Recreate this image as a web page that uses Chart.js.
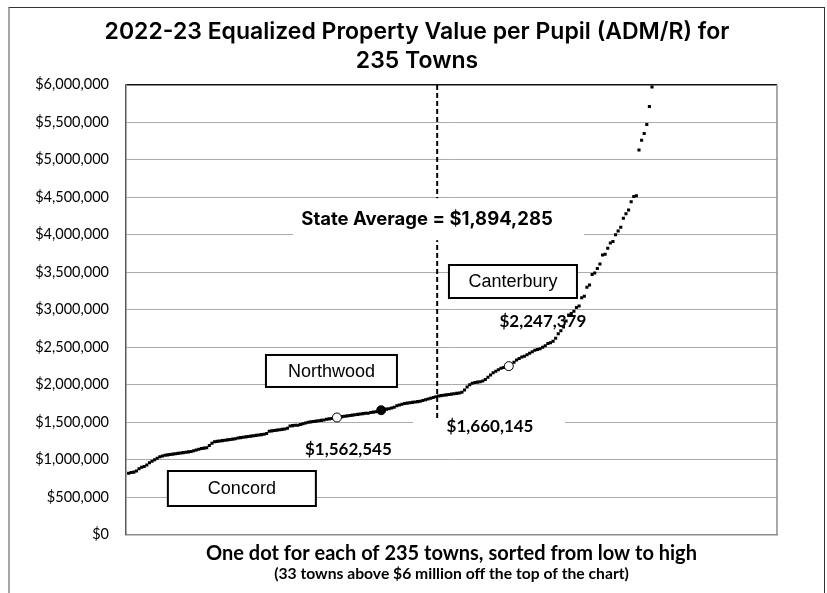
<!DOCTYPE html>
<html>
<head>
<meta charset="utf-8">
<script src="https://cdn.jsdelivr.net/npm/chart.js@4.4.1/dist/chart.umd.min.js"></script>
<style>
  html, body { margin: 0; padding: 0; background: #fff; }
  #wrap { position: relative; width: 827px; height: 593px; }
  #frame {
    position: absolute; left: 8px; top: 7px; width: 817px; height: 600px;
    box-sizing: border-box; pointer-events: none;
    border-left: 2px solid #a6a6a6; border-top: 1.5px solid #333; border-right: 1.5px solid #333;
  }
</style>
</head>
<body>
<div id="wrap">
  <canvas id="chart"></canvas>
  <div id="frame"></div>
</div>
<script>
// equalized value per pupil, one entry per town, sorted low to high (rank 1..235)
const townValues = [
    820000, 830000, 835000, 850000, 880000, 900000, 910000, 930000, 960000, 980000,
    1000000, 1020000, 1040000, 1050000, 1060000, 1065000, 1070000, 1075000, 1080000, 1085000,
    1090000, 1095000, 1100000, 1105000, 1110000, 1120000, 1130000, 1140000, 1150000, 1155000,
    1160000, 1190000, 1220000, 1240000, 1245000, 1250000, 1255000, 1260000, 1265000, 1270000,
    1275000, 1280000, 1290000, 1295000, 1300000, 1305000, 1310000, 1315000, 1320000, 1325000,
    1330000, 1335000, 1340000, 1350000, 1380000, 1385000, 1390000, 1395000, 1400000, 1405000,
    1410000, 1420000, 1450000, 1455000, 1460000, 1460000, 1470000, 1480000, 1490000, 1500000,
    1505000, 1510000, 1515000, 1520000, 1525000, 1530000, 1540000, 1545000, 1550000, 1555000,
    1562545, 1570000, 1575000, 1580000, 1585000, 1590000, 1595000, 1600000, 1605000, 1610000,
    1615000, 1620000, 1620000, 1630000, 1635000, 1640000, 1650000, 1660145, 1670000, 1675000,
    1680000, 1690000, 1700000, 1720000, 1730000, 1740000, 1750000, 1755000, 1760000, 1765000,
    1770000, 1775000, 1780000, 1790000, 1800000, 1810000, 1820000, 1830000, 1840000, 1850000,
    1855000, 1860000, 1865000, 1870000, 1875000, 1880000, 1885000, 1890000, 1900000, 1930000,
    1970000, 2000000, 2020000, 2030000, 2035000, 2040000, 2050000, 2070000, 2100000, 2130000,
    2160000, 2180000, 2200000, 2220000, 2230000, 2240000, 2247379, 2270000, 2300000, 2330000,
    2350000, 2370000, 2380000, 2400000, 2420000, 2440000, 2460000, 2470000, 2480000, 2500000,
    2520000, 2550000, 2560000, 2580000, 2620000, 2680000, 2720000, 2770000, 2850000, 2930000,
    2950000, 2980000, 3030000, 3050000, 3160000, 3180000, 3300000, 3330000, 3470000, 3490000,
    3550000, 3610000, 3730000, 3740000, 3820000, 3890000, 3910000, 4000000, 4050000, 4100000,
    4220000, 4280000, 4330000, 4440000, 4510000, 4520000, 5130000, 5260000, 5350000, 5470000,
    5710000, 5970000, 6100000, 6300000, 6500000, 6800000, 7000000, 7300000, 7600000, 8000000,
    8400000, 8900000, 9300000, 9800000, 10400000, 11000000, 11700000, 12500000, 13400000, 14200000,
    15300000, 16500000, 17800000, 19200000, 21000000, 23000000, 25500000, 28000000, 31000000, 35000000,
    40000000, 46000000, 55000000, 68000000, 90000000
];

// highlighted towns (rank in the sorted list)
const highlightRanks = [81, 98, 147];
const highlightValues = [1562545, 1660145, 2247379];
const highlightFilled = [false, true, false];

const stateAverage = 1894285;
const stateAverageRank = 119.5;
const stateAverageLineFrom = 1450000;

const yMax = 6000000;
const yStep = 500000;
const xMax = 250;

// name boxes and value labels, placed in chart units (rank, dollars)
const boxNames = ['Concord', 'Northwood', 'Canterbury'];
const boxRanks = [44.5, 78.9, 148.6];
const boxValues = [616000, 2183000, 3376000];
const boxWidths = [148, 131, 128];
const boxHeights = [35, 32, 33];

const valueLabelRanks = [85.4, 139.8, 160.1];
const valueLabelValues = [1136000, 1436000, 2849000];
const valueLabelMask = [false, true, false];

const avgLabelRank = 115.6;
const avgLabelValue = 4207000;

const titleLines = ['2022-23 Equalized Property Value per Pupil (ADM/R) for', '235 Towns'];
const xCaption = 'One dot for each of 235 towns, sorted from low to high';
const xSubCaption = '(33 towns above $6 million off the top of the chart)';

const money = v => '$' + Math.round(v).toLocaleString('en-US');

const chartText = {
    id: 'chartText',
    beforeDraw(chart) {
        const ctx = chart.ctx;
        const area = chart.chartArea;
        ctx.save();
        ctx.fillStyle = '#000';
        ctx.textAlign = 'center';
        ctx.textBaseline = 'middle';
        ctx.font = '600 23px Inter';
        ctx.fillText(titleLines[0], 417, 32);
        ctx.fillText(titleLines[1], 417, 61);

        const cx = (area.left + area.right) / 2;
        ctx.font = 'bold 20px Lato';
        ctx.fillText(xCaption, cx, area.bottom + 19);
        ctx.font = 'bold 15.7px Lato';
        ctx.fillText(xSubCaption, cx, area.bottom + 39);
        ctx.restore();
    },
    beforeDatasetsDraw(chart) {
        const ctx = chart.ctx;
        const area = chart.chartArea;
        ctx.save();
        ctx.strokeStyle = '#8c8c8c';
        ctx.lineWidth = 1.5;
        ctx.beginPath();
        ctx.moveTo(area.right, area.top);
        ctx.lineTo(area.right, area.bottom);
        ctx.stroke();
        ctx.restore();
    },
    afterDatasetDraw(chart, args) {
        if (chart.data.datasets[args.index].id !== 'average') return;
        const ctx = chart.ctx;
        const xs = chart.scales.x;
        const ys = chart.scales.y;
        ctx.save();
        ctx.textAlign = 'center';
        ctx.textBaseline = 'middle';

        // state average label on a white patch over the dashed line
        const ax = xs.getPixelForValue(avgLabelRank);
        const ay = ys.getPixelForValue(avgLabelValue);
        ctx.fillStyle = '#fff';
        ctx.fillRect(ax - 134, ay - 21, 291, 42);
        ctx.fillStyle = '#000';
        ctx.font = 'bold 18.5px Inter';
        ctx.fillText('State Average = ' + money(stateAverage), ax, ay);

        // name boxes
        ctx.font = '18px "Liberation Sans"';
        boxNames.forEach((name, i) => {
            const bx = xs.getPixelForValue(boxRanks[i]);
            const by = ys.getPixelForValue(boxValues[i]);
            const w = boxWidths[i], h = boxHeights[i];
            ctx.fillStyle = '#fff';
            ctx.fillRect(bx - w / 2, by - h / 2, w, h);
            ctx.strokeStyle = '#000';
            ctx.lineWidth = 2;
            ctx.strokeRect(bx - w / 2, by - h / 2, w, h);
            ctx.fillStyle = '#000';
            ctx.fillText(name, bx, by + 1);
        });

        // dollar values of the highlighted towns
        ctx.font = 'bold 17px Lato';
        highlightValues.forEach((v, i) => {
            const lx = xs.getPixelForValue(valueLabelRanks[i]);
            const ly = ys.getPixelForValue(valueLabelValues[i]);
            if (valueLabelMask[i]) {
                ctx.fillStyle = '#fff';
                ctx.fillRect(lx - 77, ly - 6, 152, 18);
            }
            ctx.fillStyle = '#000';
            ctx.fillText(money(v), lx, ly);
        });
        ctx.restore();
    }
};

const ctx = document.getElementById('chart').getContext('2d');
new Chart(ctx, {
    type: 'scatter',
    data: {
        datasets: [
            {
                id: 'highlight',
                data: highlightRanks.map((r, i) => ({ x: r, y: highlightValues[i] })),
                pointStyle: 'circle',
                pointRadius: 4.5,
                pointBorderWidth: 1,
                pointBorderColor: '#000',
                pointBackgroundColor: highlightFilled.map(f => f ? '#000' : '#fff'),
                order: 1
            },
            {
                id: 'towns',
                data: townValues.map((v, i) => ({ x: i + 1, y: v })),
                pointStyle: 'rect',
                pointRadius: 2.2,
                pointBorderWidth: 0,
                pointBackgroundColor: '#000',
                clip: 3,
                order: 2
            },
            {
                id: 'average',
                type: 'line',
                data: [
                    { x: stateAverageRank, y: stateAverageLineFrom },
                    { x: stateAverageRank, y: yMax }
                ],
                borderColor: '#000',
                borderWidth: 2,
                borderDash: [5, 3],
                pointRadius: 0,
                fill: false,
                order: 3
            }
        ]
    },
    options: {
        responsive: true,
        maintainAspectRatio: false,
        animation: false,
        layout: { padding: { top: 84.7, right: 50, left: 0, bottom: 0 } },
        plugins: {
            legend: { display: false },
            tooltip: { enabled: false },
            title: { display: false }
        },
        scales: {
            x: {
                type: 'linear',
                min: 0,
                max: xMax,
                ticks: { display: false },
                grid: { display: false },
                border: { display: true, color: '#8c8c8c', width: 1.5 },
                afterFit: s => { s.height = 58.3; }
            },
            y: {
                min: 0,
                max: yMax,
                ticks: {
                    stepSize: yStep,
                    padding: 17,
                    color: '#000',
                    font: { family: 'Lato', size: 14.5 },
                    callback: v => money(v)
                },
                grid: {
                    drawTicks: false,
                    color: c => c.tick && c.tick.value === yMax ? '#111' : '#ababab',
                    lineWidth: c => c.tick && c.tick.value === yMax ? 1.5 : 1
                },
                border: { display: true, color: '#595959', width: 1.5 },
                afterFit: s => { s.width = 126; }
            }
        }
    },
    plugins: [chartText]
});
</script>
</body>
</html>
